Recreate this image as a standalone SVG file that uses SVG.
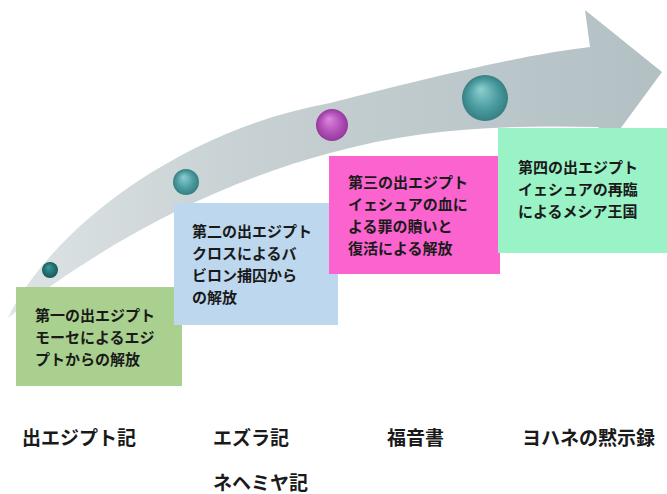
<svg xmlns="http://www.w3.org/2000/svg" width="667" height="494" viewBox="0 0 667 494">
<style>
.box-text{font-family:"Noto Sans CJK JP","Noto Sans",sans-serif;font-weight:bold;font-size:15px;fill:#1a1a1a}
.label{font-family:"Noto Sans CJK JP","Noto Sans",sans-serif;font-weight:bold;font-size:19px;fill:#1a1a1a}
</style>
<defs>
<linearGradient id="arrowGrad" x1="0" y1="0" x2="1" y2="0">
<stop offset="0" stop-color="#dde4e5"/>
<stop offset="0.35" stop-color="#c8d1d3"/>
<stop offset="1" stop-color="#b2c0c4"/>
</linearGradient>
<radialGradient id="teal" cx="0.5" cy="0.5" r="0.5" fx="0.4" fy="0.3">
<stop offset="0" stop-color="#8fcfd0"/>
<stop offset="0.6" stop-color="#4e9fa2"/>
<stop offset="1" stop-color="#357f83"/>
</radialGradient>
<radialGradient id="darkTeal" cx="0.5" cy="0.5" r="0.5" fx="0.4" fy="0.3">
<stop offset="0" stop-color="#3c9a9a"/>
<stop offset="1" stop-color="#145a5c"/>
</radialGradient>
<radialGradient id="purple" cx="0.5" cy="0.5" r="0.5" fx="0.4" fy="0.3">
<stop offset="0" stop-color="#d98ade"/>
<stop offset="0.6" stop-color="#b651bc"/>
<stop offset="1" stop-color="#933a99"/>
</radialGradient>
</defs>

<g id="arrow">
<path d="M 8 318 C 50 230, 180 130, 330 103 C 420 80, 520 55, 590 47 L 585 10 L 662 72 L 612 140 L 598 127 C 500 125, 420 128, 330 153 C 230 180, 120 230, 8 318 Z" fill="url(#arrowGrad)"/>
</g>

<g id="markers">
<circle cx="50" cy="270" r="8" fill="url(#darkTeal)"/>
<circle cx="186" cy="182" r="13" fill="url(#teal)"/>
<circle cx="332" cy="125" r="16" fill="url(#purple)"/>
<circle cx="485" cy="98" r="23" fill="url(#teal)"/>
</g>

<g id="connectors"></g>

<g id="node1">
<rect x="16" y="287" width="166" height="99" fill="#a9d08e"/>
<text class="box-text" x="35" y="321">第一の出エジプト</text>
<text class="box-text" x="35" y="343">モーセによるエジ</text>
<text class="box-text" x="35" y="365">プトからの解放</text>
</g>

<g id="node2">
<rect x="174" y="203" width="164" height="122" fill="#bdd7ee"/>
<text class="box-text" x="192" y="237">第二の出エジプト</text>
<text class="box-text" x="192" y="259">クロスによるバ</text>
<text class="box-text" x="192" y="281">ビロン捕囚から</text>
<text class="box-text" x="192" y="303">の解放</text>
</g>

<g id="node3">
<rect x="329" y="156" width="171" height="118" fill="#fb63cf"/>
<text class="box-text" x="348" y="188">第三の出エジプト</text>
<text class="box-text" x="348" y="210">イェシュアの血に</text>
<text class="box-text" x="348" y="232">よる罪の贖いと</text>
<text class="box-text" x="348" y="254">復活による解放</text>
</g>

<g id="node4">
<rect x="498" y="128" width="169" height="125" fill="#9af3c7"/>
<text class="box-text" x="518" y="173">第四の出エジプト</text>
<text class="box-text" x="518" y="195">イェシュアの再臨</text>
<text class="box-text" x="518" y="217">によるメシア王国</text>
</g>

<g id="labels">
<text class="label" x="22" y="445">出エジプト記</text>
<text class="label" x="213" y="445">エズラ記</text>
<text class="label" x="213" y="490">ネヘミヤ記</text>
<text class="label" x="387" y="445">福音書</text>
<text class="label" x="522" y="445">ヨハネの黙示録</text>
</g>
</svg>
